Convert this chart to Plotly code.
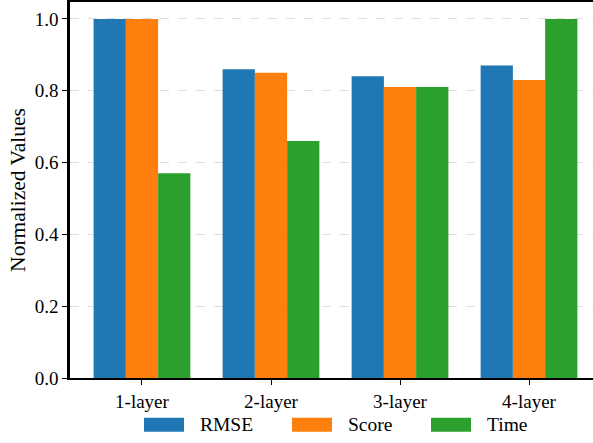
import plotly.graph_objects as go

# Normalized metrics per model depth
categories = ["1-layer", "2-layer", "3-layer", "4-layer"]
rmse = [1.00, 0.86, 0.84, 0.87]
score = [1.00, 0.85, 0.81, 0.83]
time_ = [0.57, 0.66, 0.81, 1.00]
y_ticks = [0.0, 0.2, 0.4, 0.6, 0.8, 1.0]

series = [("RMSE", rmse, "#1f77b4"), ("Score", score, "#ff7f0e"), ("Time", time_, "#2ca02c")]

FONT = "Liberation Serif"
W, H = 593, 443
L, R, T, B = 70, 0, 0, 65

fig = go.Figure()
x_idx = list(range(len(categories)))
for name, vals, color in series:
    fig.add_trace(go.Bar(x=x_idx, y=vals, name=name, marker=dict(color=color, line=dict(width=0)),
                         showlegend=False))

fig.update_layout(
    width=W, height=H,
    margin=dict(l=L, r=R, t=T, b=B),
    plot_bgcolor="white", paper_bgcolor="white",
    barmode="group", bargap=0.25, bargroupgap=0,
)
fig.update_xaxes(
    range=[-0.558, 3.496],
    tickmode="array", tickvals=x_idx, ticktext=categories,
    ticks="outside", ticklen=5, tickwidth=1.2, tickcolor="black",
    showline=True, linecolor="black", linewidth=2, mirror=True,
    showgrid=False, zeroline=False,
    tickfont=dict(family=FONT, size=19, color="black"),
)
fig.update_yaxes(
    range=[0, 1.047],
    tickmode="array", tickvals=y_ticks, ticktext=[f"{v:.1f}" for v in y_ticks],
    ticks="outside", ticklen=5, tickwidth=1.2, tickcolor="black",
    showline=True, linecolor="black", linewidth=2.5,
    showgrid=True, gridcolor="rgba(200,200,200,0.6)", griddash="dash", gridwidth=1,
    zeroline=False,
    title=dict(text="Normalized Values", font=dict(family=FONT, size=21.5, color="black"), standoff=4),
    tickfont=dict(family=FONT, size=19, color="black"),
)

# Legend row below the axis: wide swatches with labels
legend_items = [(name, color, x0) for (name, _, color), x0 in zip(series, [144, 292, 431])]
sw_w, sw_h, sw_y = 40, 14, 418
for name, color, x0 in legend_items:
    fig.add_shape(type="rect", xref="paper", yref="paper",
                  x0=(x0 - L) / (W - L - R), x1=(x0 + sw_w - L) / (W - L - R),
                  y0=(H - B - (sw_y + sw_h)) / (H - T - B), y1=(H - B - sw_y) / (H - T - B),
                  fillcolor=color, line=dict(width=0))
    fig.add_annotation(xref="paper", yref="paper",
                       x=(x0 + sw_w + 14 - L) / (W - L - R),
                       y=(H - B - (sw_y + sw_h / 2)) / (H - T - B),
                       text=name, showarrow=False, xanchor="left", yanchor="middle",
                       font=dict(family=FONT, size=19.5, color="black"))

fig.write_html("out.html")
